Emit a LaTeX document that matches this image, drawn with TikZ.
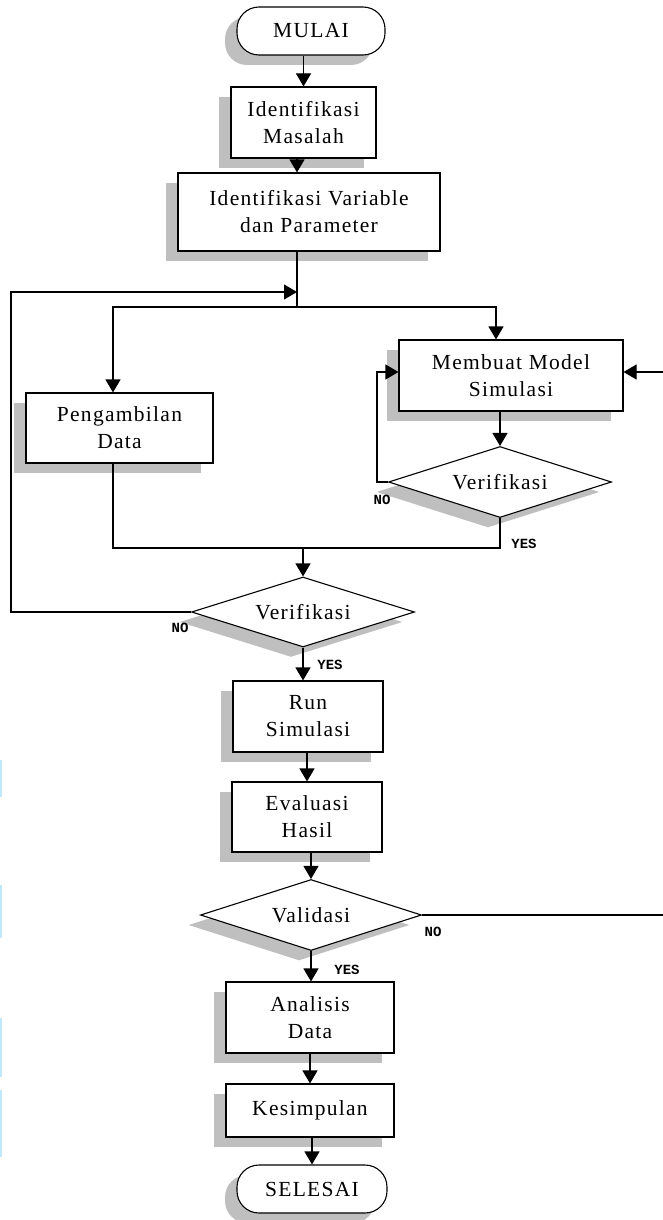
\documentclass[tikz,border=0pt]{standalone}
\usepackage{fontspec}
\setmainfont{Liberation Serif}[LetterSpace=6]
\newfontfamily\lblfont{Liberation Mono}[BoldFont={Liberation Mono Bold}]
\usetikzlibrary{shapes.geometric,shadows,arrows.meta}
\begin{document}
\begin{tikzpicture}[x=1pt,y=-1pt,
  base/.style={draw=black, line width=1.1pt, fill=white, inner sep=0pt, align=center,
    font=\fontsize{21.5}{27}\selectfont,
    drop shadow={shadow xshift=-12pt,shadow yshift=-10pt,fill=gray!50,opacity=1}},
  procbox/.style={base, rectangle},
  termbox/.style={base, rectangle, rounded corners=22pt},
  decbox/.style={base, diamond, aspect=3},
  arr/.style={line width=1.1pt, -{Triangle[width=15pt,length=13pt]}},
  ln/.style={line width=1.1pt},
  lbl/.style={font=\lblfont\bfseries\fontsize{14}{14}\selectfont, inner sep=0pt},
  artefact/.style={draw=cyan!25, line width=1.5pt}
]
\useasboundingbox (0,0) rectangle (663,1220);
\fill[white] (0,0) rectangle (663,1220);

% nodes
\node[termbox, minimum width=148pt, minimum height=48pt] (mulai) at (311,31) {MULAI};
\node[procbox, minimum width=145pt, minimum height=71pt] (masalah) at (303.5,122.5) {Identifikasi\\Masalah};
\node[procbox, minimum width=262pt, minimum height=78pt] (variabel) at (309,212) {Identifikasi Variable\\dan Parameter};
\node[procbox, minimum width=187pt, minimum height=70pt] (ambil) at (119.5,428) {Pengambilan\\Data};
\node[procbox, minimum width=224pt, minimum height=71pt] (membuat) at (511,375.5) {Membuat Model\\Simulasi};
\node[decbox, minimum width=223pt, minimum height=71pt] (verifb) at (500,482) {Verifikasi};
\node[decbox, minimum width=223pt, minimum height=70pt] (verifa) at (303,612) {Verifikasi};
\node[procbox, minimum width=150pt, minimum height=71pt] (run) at (308,716.5) {Run\\Simulasi};
\node[procbox, minimum width=150pt, minimum height=70pt] (eval) at (307,817) {Evaluasi\\Hasil};
\node[decbox, minimum width=221pt, minimum height=71pt] (valid) at (311,915) {Validasi};
\node[procbox, minimum width=168pt, minimum height=71pt] (analisis) at (310,1017.5) {Analisis\\Data};
\node[procbox, minimum width=168pt, minimum height=53pt] (kesimpulan) at (310,1110.5) {Kesimpulan};
\node[termbox, minimum width=150pt, minimum height=48pt] (selesai) at (312,1189) {SELESAI};

% junction coordinates
\coordinate (split) at (297,307);
\coordinate (loopin) at (297,292);
\coordinate (lefttop) at (11,292);
\coordinate (leftbot) at (11,612);
\coordinate (splitL) at (113,307);
\coordinate (splitR) at (496,307);
\coordinate (mergeL) at (113,548);
\coordinate (nocorner) at (377,482);
\coordinate (rightin) at (663,372);
\coordinate (rightout) at (663,915);

% connectors
\draw[arr] (mulai.south -| masalah.north) -- (masalah.north);
\draw[arr] (masalah.south -| split) -- (variabel.north -| split);
\draw[ln] (variabel.south -| split) -- (split);
\draw[arr] (splitR) -- (splitL) -- (splitL |- ambil.north);
\draw[arr] (split) -- (splitR) -- (splitR |- membuat.north);
\draw[arr] (verifa.west) -- (leftbot) -- (lefttop) -- (loopin);
\draw[ln] (verifb.south) |- (mergeL) -- (ambil.south -| mergeL);
\draw[arr] (verifa.north |- mergeL) -- (verifa.north);
\draw[arr] (membuat.south -| verifb.north) -- (verifb.north);
\draw[arr] (verifb.west) -- (nocorner) -- (nocorner |- rightin) -- (membuat.west |- rightin);
\draw[arr] (rightin) -- (membuat.east |- rightin);
\draw[ln] (valid.east) -- (rightout);
\draw[arr] (verifa.south) -- (verifa.south |- run.north);
\draw[arr] (run.south -| eval.north) -- (eval.north);
\draw[arr] (eval.south -| valid.north) -- (valid.north);
\draw[arr] (valid.south) -- (valid.south |- analisis.north);
\draw[arr] (analisis.south) -- (kesimpulan.north);
\draw[arr] (kesimpulan.south -| selesai.north) -- (selesai.north);

% labels
\node[lbl] (noa) at (180,628) {NO};
\node[lbl] (yesa) at (330,665) {YES};
\node[lbl] (nob) at (382,500) {NO};
\node[lbl] (yesb) at (524,544) {YES};
\node[lbl] (noc) at (433,932) {NO};
\node[lbl] (yesc) at (347,970) {YES};

% scan artefacts at the left edge
\draw[artefact] (0.75,760) -- (0.75,797);
\draw[artefact] (0.75,885) -- (0.75,938);
\draw[artefact] (0.75,1018) -- (0.75,1077);
\draw[artefact] (0.75,1090) -- (0.75,1157);
\end{tikzpicture}
\end{document}
